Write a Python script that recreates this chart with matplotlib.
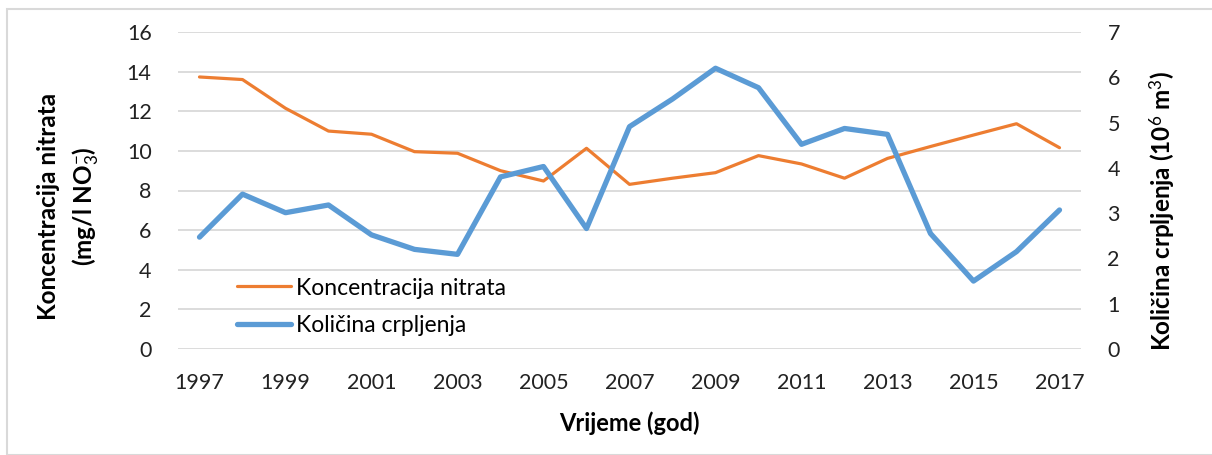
import matplotlib
matplotlib.use("Agg")
import matplotlib.pyplot as plt
from matplotlib.patches import Rectangle

years = list(range(1997, 2018))
nitrate = [13.73, 13.6, 12.15, 11.0, 10.84, 9.96, 9.88, 9.0, 8.48, 10.13, 8.31,
           8.62, 8.9, 9.76, 9.34, 8.62, 9.62, 10.22, 10.8, 11.37, 10.16]
pumping = [2.47, 3.42, 3.01, 3.18, 2.52, 2.2, 2.09, 3.8, 4.03, 2.66, 4.91,
           5.52, 6.2, 5.77, 4.52, 4.87, 4.74, 2.55, 1.5, 2.15, 3.07]
left_ticks = [0, 2, 4, 6, 8, 10, 12, 14, 16]
right_ticks = [0, 1, 2, 3, 4, 5, 6, 7]
xtick_years = list(range(1997, 2018, 2))

FONT = "Lato"
plt.rcParams['font.family'] = [FONT, 'DejaVu Sans']
plt.rcParams['mathtext.fontset'] = 'custom'
plt.rcParams['mathtext.rm'] = FONT
plt.rcParams['mathtext.it'] = FONT
plt.rcParams['mathtext.bf'] = FONT + ':bold'

fig = plt.figure(figsize=(12.12, 4.55), dpi=100)
fig.patches.append(Rectangle((7/1212, 0), 1.0, 1 - 9/455, transform=fig.transFigure,
                             fill=False, edgecolor='#d9d9d9', linewidth=1.5))

ax = fig.add_axes([178/1212, 1 - 349/455, (1081-178)/1212, (349-32)/455])
ax2 = ax.twinx()

x = list(range(len(years)))
l1, = ax.plot(x, nitrate, color='#ED7D31', lw=2.3, solid_capstyle='round', zorder=3,
              label='Koncentracija nitrata')
l2, = ax2.plot(x, pumping, color='#5B9BD5', lw=3.8, solid_capstyle='round', zorder=3,
               label='Količina crpljenja')

ax.set_xlim(-0.5, len(years) - 0.5)
ax.set_ylim(0, 16)
ax2.set_ylim(0, 7)
ax.set_yticks(left_ticks)
ax2.set_yticks(right_ticks)
ax.set_xticks([years.index(y) for y in xtick_years])
ax.set_xticklabels([str(y) for y in xtick_years])
ax.yaxis.grid(True, color='#d9d9d9', lw=1.3)
ax.set_axisbelow(True)
for a in (ax, ax2):
    for s in a.spines.values():
        s.set_visible(False)
    a.tick_params(length=0, labelsize=15.5, colors='#222222')
ax.tick_params(axis='y', pad=19)
ax2.tick_params(axis='y', pad=19)
ax.tick_params(axis='x', pad=17)

fig.text(629/1212, 1 - 423/455, 'Vrijeme (god)', fontsize=17, fontweight='bold',
         ha='center', va='center')
fig.text(49/1212, 1 - 206/455, 'Koncentracija nitrata', rotation=90, fontsize=17.5,
         fontweight='bold', ha='center', va='center')
fig.text(85/1212, 1 - 206/455, r'(mg/l NO$_3^{-}$)', rotation=90, fontsize=17.5,
         fontweight='bold', ha='center', va='center')
fig.text(1163/1212, 1 - 211/455, r'Količina crpljenja (10$^6$ m$^3$)', rotation=90,
         fontsize=17.5, fontweight='bold', ha='center', va='center')

leg = ax2.legend(handles=[l1, l2], loc='center left', bbox_to_anchor=(0.0653, 0.134),
                 frameon=False, fontsize=16.5, handlelength=2.35, handletextpad=0.22,
                 labelspacing=0.7, borderaxespad=0, borderpad=0)

fig.savefig('out.png', dpi=100)
